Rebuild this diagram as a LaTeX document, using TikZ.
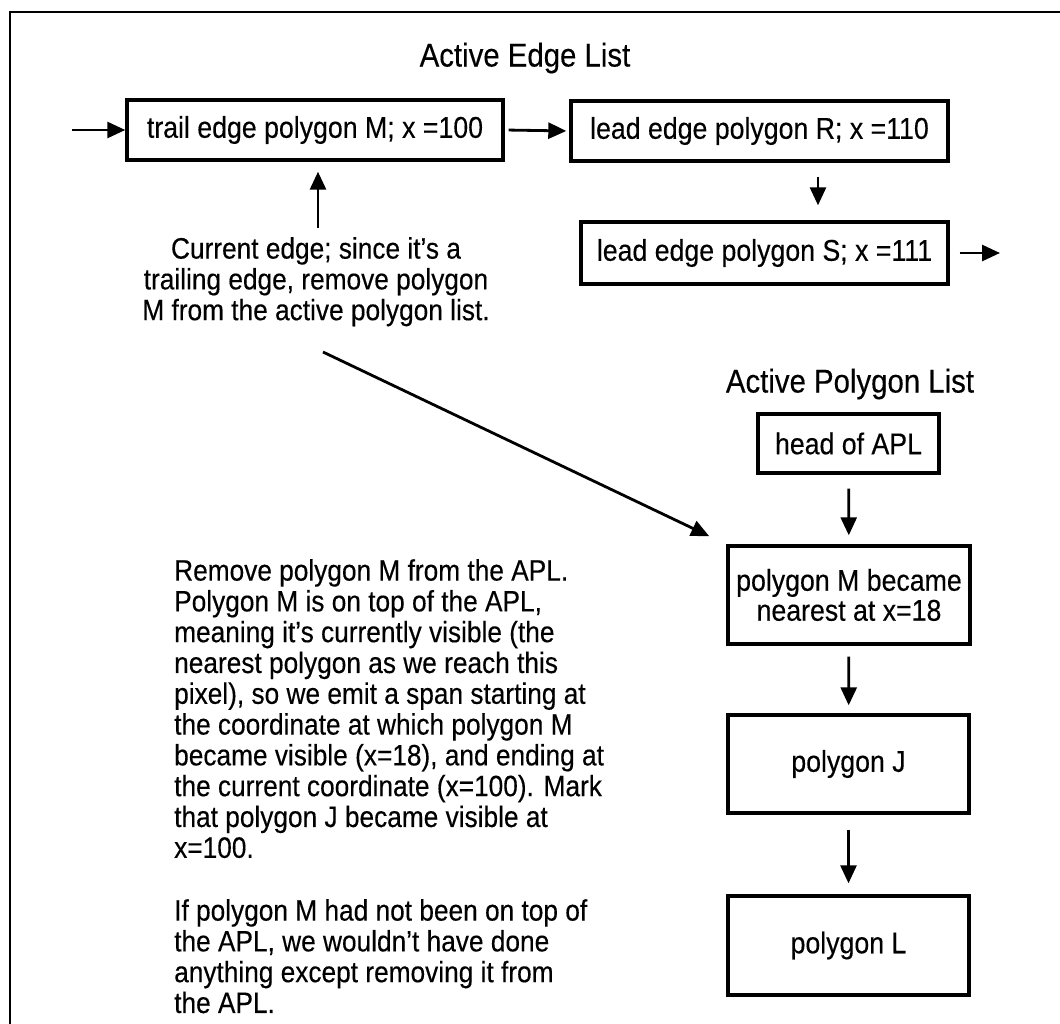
\documentclass[tikz,border=0pt]{standalone}
\usepackage{fontspec}
\setmainfont{Liberation Sans}[FakeStretch=0.89, FakeBold=0.3]
\usetikzlibrary{arrows.meta}

\begin{document}
\begin{tikzpicture}[x=1pt, y=-1pt,
  txt/.style={inner sep=0pt, font=\fontsize{29.5}{30.8}\selectfont},
  ttl/.style={inner sep=0pt, font=\fontsize{33}{36}\selectfont},
  box/.style={draw, line width=3.4pt, inner sep=0pt, align=center,
              font=\fontsize{30}{30}\selectfont},
  arr/.style={line width=2.8pt, -{Triangle[length=18pt,width=16pt]}},
  para/.style={txt, anchor=north west, align=left}]
\useasboundingbox (0,0) rectangle (1060,1024);

% frame lines on top and left
\draw[line width=2.6pt] (10,1024) -- (10,12) -- (1060,12);

% ---- active edge list ----
\node[ttl] (ael) at (525,58) {Active Edge List};

\node[box, minimum width=376pt, minimum height=60pt] (trail) at (315,130)
  {trail edge polygon M; x =100};
\node[box, minimum width=377pt, minimum height=60pt] (leadR) at (759.5,131)
  {lead edge polygon R; x =110};
\node[box, minimum width=367pt, minimum height=62pt] (leadS) at (764.5,253)
  {lead edge polygon S; x =111};

\coordinate (inA) at (72,130);
\coordinate (outS) at (1000,253);
\coordinate (colRS) at (818,0);
\coordinate (colUp) at (318,0);

\draw[arr] (inA) -- (trail.west);
\draw[arr, shorten <=4pt, shorten >=3pt] (trail.east) -- (leadR.west);
\draw[arr, shorten <=14pt, shorten >=15pt] (leadR.south -| colRS) -- (leadS.north -| colRS);
\draw[arr, shorten <=10pt] (leadS.east) -- (outS);

% ---- caption for the current edge ----
\node[txt, align=center, anchor=north] (cap) at (316,237)
  {Current edge; since it’s a\\
   trailing edge, remove polygon\\
   M from the active polygon list.};
\draw[arr, shorten <=9pt, shorten >=10pt] (cap.north -| colUp) -- (trail.south -| colUp);

% ---- active polygon list ----
\node[ttl] (apl) at (850,384) {Active Polygon List};
\node[box, minimum width=181pt, minimum height=59pt] (head) at (848.5,443.5) {head of APL};
\node[box, minimum width=242pt, minimum height=98pt] (pM) at (849,595)
  {polygon M became\\ nearest at x=18};
\node[box, minimum width=241pt, minimum height=98pt] (pJ) at (848.5,764) {polygon J};
\node[box, minimum width=241pt, minimum height=99pt] (pL) at (848.5,945.5) {polygon L};

\draw[arr, shorten <=14pt, shorten >=9pt] (head) -- (pM);
\draw[arr, shorten <=11pt, shorten >=8pt] (pM) -- (pJ);
\draw[arr, shorten <=15pt, shorten >=11pt] (pJ) -- (pL);

% pointer from the caption to the removed polygon
\coordinate (lstart) at (323,352);
\draw[arr, shorten >=19pt] (lstart) -- (pM.north west);

% ---- explanation ----
\node[para] (expl) at (174,559)
  {Remove polygon M from the APL.\\
   Polygon M is on top of the APL,\\
   meaning it’s currently visible (the\\
   nearest polygon as we reach this\\
   pixel), so we emit a span starting at\\
   the coordinate at which polygon M\\
   became visible (x=18), and ending at\\
   the current coordinate (x=100). Mark\\
   that polygon J became visible at\\
   x=100.};
\node[para] (note) at (174,899)
  {If polygon M had not been on top of\\
   the APL, we wouldn’t have done\\
   anything except removing it from\\
   the APL.};
\end{tikzpicture}
\end{document}
